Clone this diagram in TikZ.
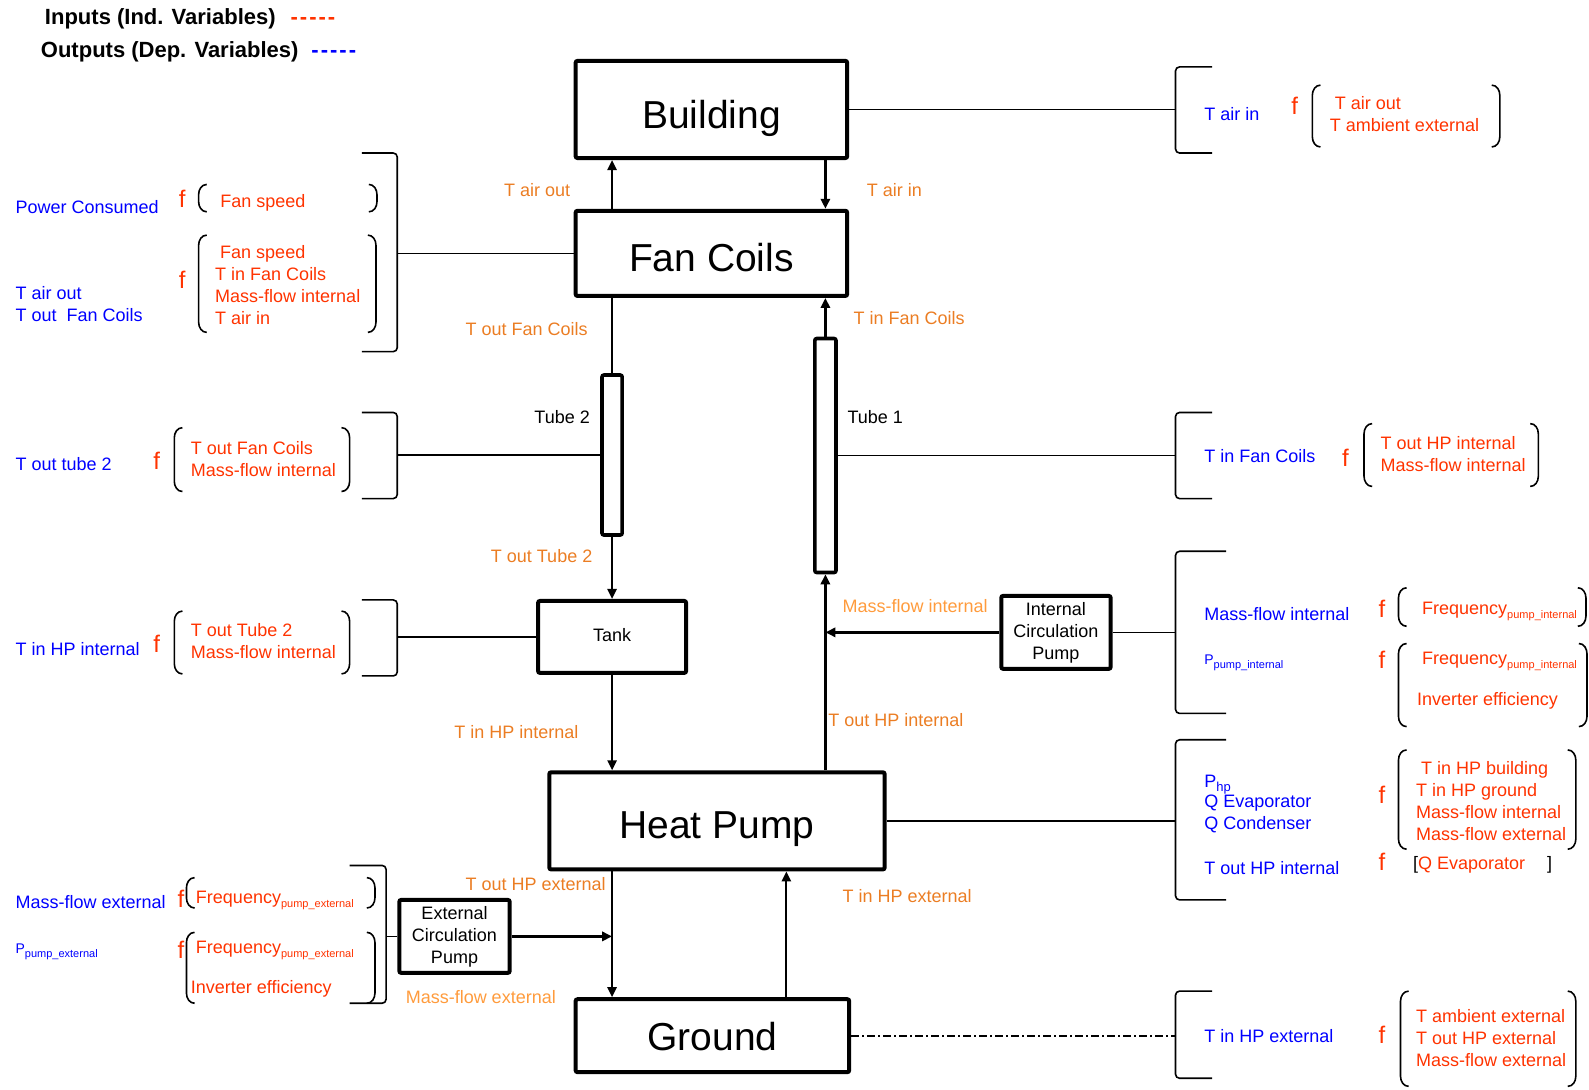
\documentclass[tikz,border=0pt]{standalone}
\usepackage{fontspec}
\setmainfont{Liberation Sans}
\usetikzlibrary{arrows.meta}
\definecolor{depblue}{RGB}{0,0,255}
\definecolor{indred}{RGB}{255,51,0}
\definecolor{flowor}{RGB}{235,125,35}
\definecolor{massor}{RGB}{255,155,60}
\newcommand{\subtxt}[1]{\raisebox{-2pt}{\fontsize{5.5}{6}\selectfont#1}}
\newcommand{\legdash}{-\kern1pt-\kern1pt-\kern1pt-\kern1pt-}
\begin{document}
\begin{tikzpicture}[x=0.5067pt,y=-0.5067pt,
  box/.style={draw,line width=2pt,rounded corners=1pt,inner sep=0pt,text height=18pt,text depth=0pt,
    font=\fontsize{19.5}{22}\selectfont},
  smallbox/.style={draw,line width=2pt,rounded corners=1pt,inner sep=0pt,font=\fontsize{9}{11}\selectfont,align=center},
  depvar/.style={text=depblue,anchor=west,inner sep=0pt,font=\fontsize{9}{11}\selectfont,align=left},
  indvar/.style={depvar,text=indred},
  fsym/.style={indvar,font=\fontsize{12}{12}\selectfont},
  flowlab/.style={text=flowor,anchor=west,inner sep=0pt,font=\fontsize{9}{11}\selectfont},
  masslab/.style={flowlab,text=massor},
  legend/.style={anchor=west,inner sep=0pt,font=\fontsize{11}{13}\selectfont\bfseries},
  link/.style={line width=0.8pt},
  flow/.style={line width=1pt,-{Triangle[length=5pt,width=4.6pt]}},
  bigflow/.style={flow,line width=1.6pt},
  brk/.style={line width=0.8pt,rounded corners=2pt}]
\useasboundingbox (0,0) rectangle (1568,1075);
% blocks
\node[box,text height=19pt,minimum width=135.8pt,minimum height=48.6pt] (building) at (702,108) {Building};
\node[box,minimum width=135.8pt,minimum height=42.6pt] (fancoils) at (702,250) {Fan Coils};
\node[smallbox,line width=1.8pt,minimum width=10.1pt,minimum height=80pt] (tube2) at (604,449) {};
\node[smallbox,line width=1.8pt,minimum width=10.6pt,minimum height=117pt] (tube1) at (814.5,449.5) {};
\node[smallbox,minimum width=74pt,minimum height=36pt,text depth=2pt] (tank) at (604,628.5) {Tank};
\node[smallbox,minimum width=54.7pt,minimum height=36.5pt] (intpump) at (1042,624) {Internal\\Circulation\\Pump};
\node[box,minimum width=167.7pt,minimum height=48.6pt] (heatpump) at (707.5,810) {Heat Pump};
\node[smallbox,minimum width=55.2pt,minimum height=36.5pt] (extpump) at (448.5,924) {External\\Circulation\\Pump};
\node[box,text height=15pt,minimum width=136.8pt,minimum height=36.5pt] (ground) at (703,1022) {Ground};
\coordinate (rbr) at (1160,0);
\coordinate (lbr) at (392,0);
\coordinate (lbx) at (381,0);
\coordinate (gup) at (776,0);
% water and air loops
\draw[flow] (tube2 |- fancoils.north) -- (tube2 |- building.south);
\draw[bigflow] (tube1 |- building.south) -- (tube1 |- fancoils.north);
\draw[link,line width=1pt] (tube2 |- fancoils.south) -- (tube2.north);
\draw[flow] (tube2.south) -- (tank.north);
\draw[bigflow] (tube1.north) -- (tube1 |- fancoils.south);
\draw[flow] (tank.south) -- (tank |- heatpump.north);
\draw[bigflow] (tube1 |- heatpump.north) -- (tube1.south);
\draw[bigflow] (intpump.west) -- (intpump.west -| tube1);
\draw[flow] (tank |- heatpump.south) -- (tank |- ground.north);
\draw[flow] (gup |- ground.north) -- (gup |- heatpump.south);
\draw[bigflow] (extpump.east) -- (extpump.east -| tank);
% links to the equations
\draw[link] (building.east) -- (building.east -| rbr);
\draw[link] (fancoils.west) -- (fancoils.west -| lbr);
\draw[link] (tube2.west) -- (tube2.west -| lbr);
\draw[link] (tube1.east) -- (tube1.east -| rbr);
\draw[link] (tank.west) -- (tank.west -| lbr);
\draw[link] (intpump.east) -- (intpump.east -| rbr);
\draw[link] (heatpump.east) -- (heatpump.east -| rbr);
\draw[link] (extpump.west) -- (extpump.west -| lbx);
\draw[link,dash pattern=on 4pt off 1.5pt on 1pt off 1.5pt] (ground.east) -- (ground.east -| rbr);
% brackets
\foreach \ya/\yb/\xe in {66/151/1196,407/492/1196,544/704/1210,730/888/1210,978/1064/1196}
  \draw[brk] (\xe,\ya) -- (1160,\ya) -- (1160,\yb) -- (\xe,\yb);
\foreach \ya/\yb/\xs/\xv in {151/347/357/392,407/492/357/392,592/667/357/392,854/990/345/381}
  \draw[brk] (\xs,\ya) -- (\xv,\ya) -- (\xv,\yb) -- (\xs,\yb);
\foreach \xa/\xb/\ya/\yb in {1295/1480/84/145,1346/1518/418/480,1380/1565/580/618,1380/1566/635/717,
    1380/1555/740/838,1382/1555/978/1072,196/372/182/209,196/371/232/328,172/345/422/485,
    172/345/603/665,184/370/866/896,184/370/920/990}{
  \draw[link] (\xa+8,\ya) to[out=180,in=90] (\xa,\ya+10) -- (\xa,\yb-10) to[out=-90,in=180] (\xa+8,\yb);
  \draw[link] (\xb-8,\ya) to[out=0,in=90] (\xb,\ya+10) -- (\xb,\yb-10) to[out=-90,in=0] (\xb-8,\yb);
}
% legend
\node[legend] (legin) at (44,19) {Inputs (Ind. Variables)\hspace{7.5pt}\textcolor{indred}{\legdash}};
\node[legend] (legout) at (40,51) {Outputs (Dep. Variables)\hspace{6.5pt}\textcolor{depblue}{\legdash}};
% flow labels
\node[flowlab] (lairout) at (497,188) {T air out};
\node[flowlab] (lairin) at (855,188) {T air in};
\node[flowlab] (loutfc) at (459,325) {T out Fan Coils};
\node[flowlab] (linfc) at (842,314) {T in Fan Coils};
\node[flowlab,text=black] (ltube2) at (527,412) {Tube 2};
\node[flowlab,text=black] (ltube1) at (836,412) {Tube 1};
\node[flowlab] (louttube) at (484,549) {T out Tube 2};
\node[masslab] (lmassin) at (831,598) {Mass-flow internal};
\node[flowlab] (linhpi) at (448,722) {T in HP internal};
\node[flowlab] (louthpi) at (817,711) {T out HP internal};
\node[flowlab] (louthpe) at (459,872) {T out HP external};
\node[flowlab] (linhpe) at (831,884) {T in HP external};
\node[masslab] (lmassex) at (400,984) {Mass-flow external};
% fan coils equations
\node[depvar] (fcpow) at (15,204) {Power Consumed};
\node[fsym] (fcf1) at (176,196) {f};
\node[indvar] (fcin1) at (217,200) {Fan speed};
\node[depvar] (fcout) at (15,300.5) {T air out\\T out~ Fan Coils};
\node[fsym] (fcf2) at (176,276) {f};
\node[indvar] (fcin2) at (212,281.5) {\hspace{2.5pt}Fan speed\\T in Fan Coils\\Mass-flow internal\\T air in};
% tube 2 and tank equations
\node[depvar] (t2out) at (15,458) {T out tube 2};
\node[fsym] (t2f) at (151,455) {f};
\node[indvar] (t2in) at (188,453) {T out Fan Coils\\Mass-flow internal};
\node[depvar] (tkout) at (15,640) {T in HP internal};
\node[fsym] (tkf) at (151,635) {f};
\node[indvar] (tkin) at (188,632.5) {T out Tube 2\\Mass-flow internal};
% external pump equations
\node[depvar] (epmass) at (15,890) {Mass-flow external};
\node[fsym] (epf1) at (175,887) {f};
\node[indvar,anchor=base west] (epin1) at (193,892) {Frequency\subtxt{pump\_external}};
\node[depvar,anchor=base west] (eppow) at (15,941) {{\fontsize{7}{8}\selectfont P}\subtxt{pump\_external}};
\node[fsym] (epf2) at (175,937) {f};
\node[indvar,anchor=base west] (epin2) at (193,941) {Frequency\subtxt{pump\_external}};
\node[indvar] (epin3) at (188,976) {Inverter efficiency};
% building equation
\node[depvar] (bdout) at (1188,113) {T air in};
\node[fsym] (bdf) at (1274,104) {f};
\node[indvar] (bdin) at (1312,113) {\hspace{2.5pt}T air out\\T ambient external};
% tube 1 equation
\node[depvar] (t1out) at (1188,450) {T in Fan Coils};
\node[fsym] (t1f) at (1324,452) {f};
\node[indvar] (t1in) at (1362,448) {T out HP internal\\Mass-flow internal};
% internal pump equations
\node[depvar] (ipmass) at (1188,606) {Mass-flow internal};
\node[fsym] (ipf1) at (1360,601) {f};
\node[indvar,anchor=base west] (ipin1) at (1403,606) {Frequency\subtxt{pump\_internal}};
\node[depvar,anchor=base west] (ippow) at (1188,656) {{\fontsize{7}{8}\selectfont P}\subtxt{pump\_internal}};
\node[fsym] (ipf2) at (1360,651) {f};
\node[indvar,anchor=base west] (ipin2) at (1403,656) {Frequency\subtxt{pump\_internal}};
\node[indvar] (ipin3) at (1398,692) {Inverter efficiency};
% heat pump equations
\node[depvar,anchor=base west] (hppow) at (1188,777) {P\subtxt{\fontsize{6.5}{7}\selectfont hp}};
\node[depvar] (hpq) at (1188,803) {Q Evaporator\\Q Condenser};
\node[fsym] (hpf1) at (1360,784) {f};
\node[indvar] (hpin1) at (1397,790) {\hspace{2.5pt}T in HP building\\T in HP ground\\Mass-flow internal\\Mass-flow external};
\node[depvar] (hpout) at (1188,857) {T out HP internal};
\node[fsym] (hpf2) at (1360,850) {f};
\node[indvar] (hpin2) at (1394,853) {{\color{black}[}Q Evaporator\hspace{11pt}{\color{black}]}};
% ground equation
\node[depvar] (gdout) at (1188,1022) {T in HP external};
\node[fsym] (gdf) at (1360,1021) {f};
\node[indvar] (gdin) at (1397,1024) {T ambient external\\T out HP external\\Mass-flow external};
\end{tikzpicture}
\end{document}
